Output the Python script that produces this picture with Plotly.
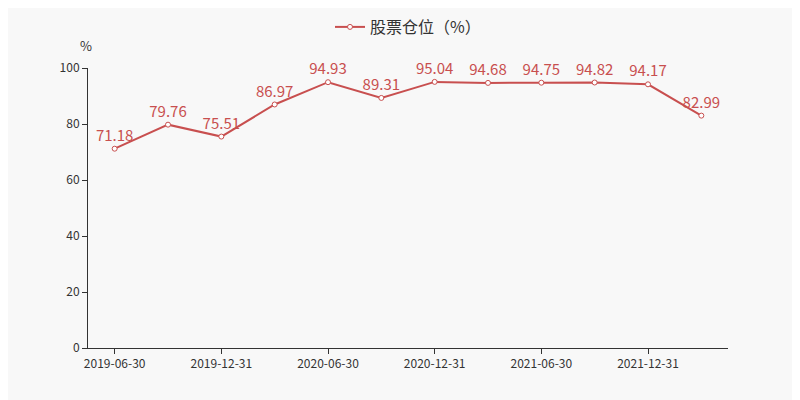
import plotly.graph_objects as go

dates = ["2019-06-30","2019-09-30","2019-12-31","2020-03-31","2020-06-30","2020-09-30",
         "2020-12-31","2021-03-31","2021-06-30","2021-09-30","2021-12-31","2022-03-31"]
values = [71.18,79.76,75.51,86.97,94.93,89.31,95.04,94.68,94.75,94.82,94.17,82.99]
yticks = [0,20,40,60,80,100]

idx = list(range(len(dates)))
fig = go.Figure(go.Scatter(
    x=idx, y=values, mode="lines+markers+text", name="股票仓位（%）",
    line=dict(color="#c84f4f", width=2),
    marker=dict(symbol="circle", size=5, color="white", line=dict(color="#c84f4f", width=1)),
    text=[f"{v:.2f}" for v in values], textposition="top center",
    textfont=dict(color="#c84f4f", size=15, family="Noto Sans CJK SC"),
    cliponaxis=False,
))
fig.update_layout(
    width=800, height=400, margin=dict(l=80, r=80, t=60, b=60),
    paper_bgcolor="#f8f8f8", plot_bgcolor="#f8f8f8",
    font=dict(family="Noto Sans CJK SC", color="#333", size=12),
    showlegend=True,
    legend=dict(orientation="h", x=0.5, xanchor="center", yref="container", y=0.995,
                yanchor="top", font=dict(size=16, color="#333"), bgcolor="rgba(0,0,0,0)"),
    xaxis=dict(range=[-0.5, 11.5], tickvals=idx[::2], ticktext=dates[::2],
               showgrid=False, showline=True, linecolor="#333", ticks="outside",
               ticklen=5, tickcolor="#333", zeroline=False),
    yaxis=dict(range=[0, 100], tickvals=yticks, showgrid=False, showline=True,
               linecolor="#333", ticks="outside", ticklen=5, tickcolor="#333", zeroline=False),
    annotations=[dict(text="%", xref="paper", yref="paper", x=0, y=1.04, xshift=6,
                      xanchor="right", yanchor="bottom", showarrow=False,
                      font=dict(size=13, color="#333"))],
)
fig.write_html("out.html")
